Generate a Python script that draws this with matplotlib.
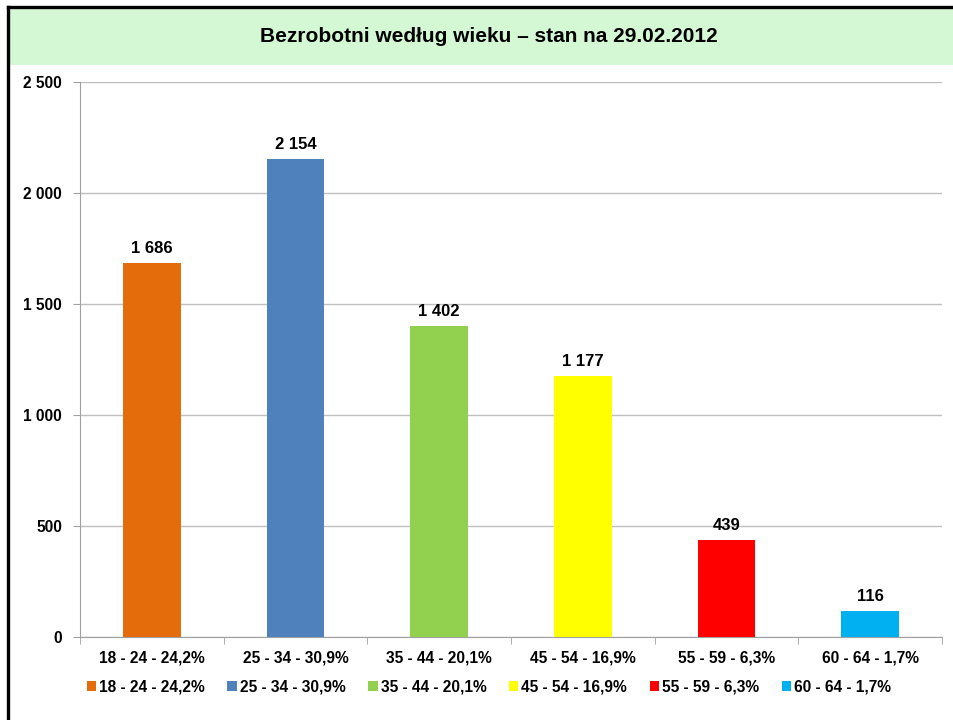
import matplotlib.pyplot as plt
from matplotlib.patches import Rectangle
from matplotlib.lines import Line2D
from matplotlib.ticker import FuncFormatter, FixedLocator

plt.rcParams['font.family'] = ['Liberation Sans', 'DejaVu Sans']

categories = ["18 - 24 - 24,2%", "25 - 34 - 30,9%", "35 - 44 - 20,1%",
              "45 - 54 - 16,9%", "55 - 59 - 6,3%", "60 - 64 - 1,7%"]
values = [1686, 2154, 1402, 1177, 439, 116]
colors = ["#E46C0A", "#4F81BD", "#92D050", "#FFFF00", "#FF0000", "#00B0F0"]
title = "Bezrobotni według wieku – stan na 29.02.2012"

def spaced(v):
    return f"{int(v):,}".replace(",", " ")

fig = plt.figure(figsize=(9.54, 7.2), dpi=100)

# header band and frame
fig.patches.append(Rectangle((9/954, 1-65/720), 1, 57/720, transform=fig.transFigure,
                             facecolor="#D4F7D4", edgecolor="none", zorder=0))
fig.add_artist(Line2D([8/954, 1], [1-6.5/720, 1-6.5/720], color="black", lw=2.4))
fig.add_artist(Line2D([8/954, 8/954], [0, 1-6.5/720], color="black", lw=2.4))
fig.text(489/954, 1-37/720, title, ha="center", va="center",
         fontsize=15, fontweight="bold")

ax = fig.add_axes([80/954, 1-637/720, 862/954, 555/720])
x = list(range(len(categories)))
bars = ax.bar(x, values, width=0.4, color=colors, label=categories, zorder=3)
for xi, v in zip(x, values):
    ax.annotate(spaced(v), (xi, v), xytext=(0, 5), textcoords="offset points",
                ha="center", va="bottom", fontsize=12, fontweight="bold")

ax.set_xlim(-0.5, len(categories) - 0.5)
ax.set_ylim(0, 2500)
ax.set_yticks(range(0, 2501, 500))
ax.yaxis.set_major_formatter(FuncFormatter(lambda v, p: spaced(v)))
ax.set_xticks(x)
ax.set_xticklabels(categories, fontsize=11.2, fontweight="bold")
ax.xaxis.set_minor_locator(FixedLocator([i - 0.5 for i in range(len(categories) + 1)]))
ax.tick_params(axis="x", which="major", length=0, pad=10)
ax.tick_params(axis="x", which="minor", length=5, color="#A0A0A0")
ax.tick_params(axis="y", length=5, color="#A0A0A0", pad=8)
for lab in ax.get_yticklabels():
    lab.set_fontsize(11.2)
    lab.set_fontweight("bold")

ax.grid(axis="y", color="#BFBFBF", lw=1, zorder=0)
for s in ["top", "right"]:
    ax.spines[s].set_visible(False)
ax.spines["left"].set_color("#A0A0A0")
ax.spines["bottom"].set_color("#A0A0A0")

ax.legend(loc="center", bbox_to_anchor=(489/954, 1-687/720), bbox_transform=fig.transFigure,
          ncol=6, frameon=False, handlelength=0.6, handleheight=0.6, handletextpad=0.2,
          columnspacing=1.45, prop={"size": 11.2, "weight": "bold"})

fig.savefig("out.png", dpi=100)
